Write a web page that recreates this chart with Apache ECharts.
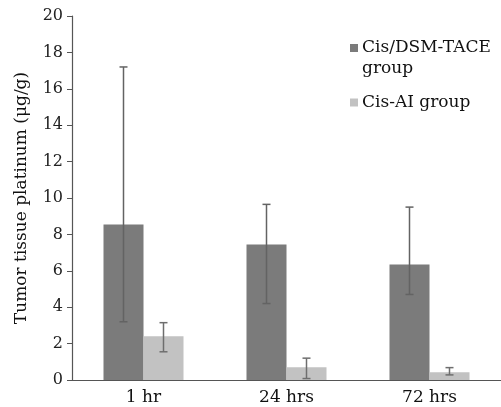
<!DOCTYPE html>
<html><head><meta charset="utf-8">
<script src="https://cdn.jsdelivr.net/npm/echarts@6/dist/echarts.min.js"></script>
<style>html,body{margin:0;padding:0;background:#fff}#c{width:501px;height:407px}</style>
</head><body><div id="c"></div>
<script>
var categories = ['1 hr', '24 hrs', '72 hrs'];
var tacePlatinum = [8.55, 7.45, 6.35];
var taceLow = [3.2, 4.2, 4.7];
var taceHigh = [17.2, 9.65, 9.5];
var aiPlatinum = [2.4, 0.7, 0.42];
var aiLow = [1.55, 0.08, 0.28];
var aiHigh = [3.15, 1.2, 0.68];
var seriesNames = ['Cis/DSM-TACE group', 'Cis-AI group'];

var font = 'DejaVu Serif';
var BW = 40;
function errData(lo, hi) { return categories.map(function (c, i) { return [i, lo[i], hi[i]]; }); }
function errSeries(lo, hi, side, color) {
  return {
    type: 'custom', silent: true, z: 5,
    data: errData(lo, hi),
    encode: { x: 0, y: [1, 2] },
    renderItem: function (params, api) {
      var i = api.value(0);
      var pLo = api.coord([i, api.value(1)]);
      var pHi = api.coord([i, api.value(2)]);
      var x = pLo[0] + side * BW / 2;
      var cap = 4;
      var st = { stroke: color, lineWidth: 1.5 };
      return { type: 'group', children: [
        { type: 'line', shape: { x1: x, y1: pLo[1], x2: x, y2: pHi[1] }, style: st },
        { type: 'line', shape: { x1: x - cap, y1: pLo[1], x2: x + cap, y2: pLo[1] }, style: st },
        { type: 'line', shape: { x1: x - cap, y1: pHi[1], x2: x + cap, y2: pHi[1] }, style: st }
      ]};
    }
  };
}
var chart = echarts.init(document.getElementById('c'));
chart.setOption({
  animation: false,
  backgroundColor: '#fff',
  grid: { left: 72, top: 16, width: 433, height: 364 },
  legend: [
    { data: [{ name: seriesNames[0], icon: 'path://M0,0h8v8h-8z M0,28h0.01v0.01h-0.01z' }],
      left: 345, top: 32, orient: 'vertical', itemWidth: 8, itemHeight: 29, itemGap: 4,
      formatter: function () { return 'Cis/DSM-TACE\ngroup'; },
      textStyle: { fontFamily: font, fontSize: 17, color: '#111', lineHeight: 21, padding: [0, 0, 0, -1] } },
    { data: [seriesNames[1]], left: 345, top: 89, itemWidth: 8, itemHeight: 8,
      icon: 'rect',
      textStyle: { fontFamily: font, fontSize: 17, color: '#111', padding: [0, 0, 0, -1] } }
  ],
  xAxis: {
    type: 'category', data: categories,
    axisLine: { lineStyle: { color: '#555', width: 1.2 } },
    axisTick: { show: false },
    axisLabel: { fontFamily: font, fontSize: 17, color: '#111', margin: 9 }
  },
  yAxis: {
    type: 'value', min: 0, max: 20, interval: 2,
    name: 'Tumor tissue platinum (μg/g)', nameLocation: 'middle', nameGap: 42,
    nameTextStyle: { fontFamily: font, fontSize: 17, color: '#111' },
    axisLine: { show: true, lineStyle: { color: '#555', width: 1.2 } },
    axisTick: { show: true, length: 5, lineStyle: { color: '#555' } },
    splitLine: { show: false },
    axisLabel: { fontFamily: font, fontSize: 16, color: '#222', margin: 9 }
  },
  series: [
    { name: seriesNames[0], type: 'bar', data: tacePlatinum, barWidth: BW, barGap: '0%',
      itemStyle: { color: '#7b7b7b' } },
    { name: seriesNames[1], type: 'bar', data: aiPlatinum, barWidth: BW,
      itemStyle: { color: '#c2c2c2' } },
    errSeries(taceLow, taceHigh, -1, '#636363'),
    errSeries(aiLow, aiHigh, 1, '#6e6e6e')
  ]
});
</script></body></html>
